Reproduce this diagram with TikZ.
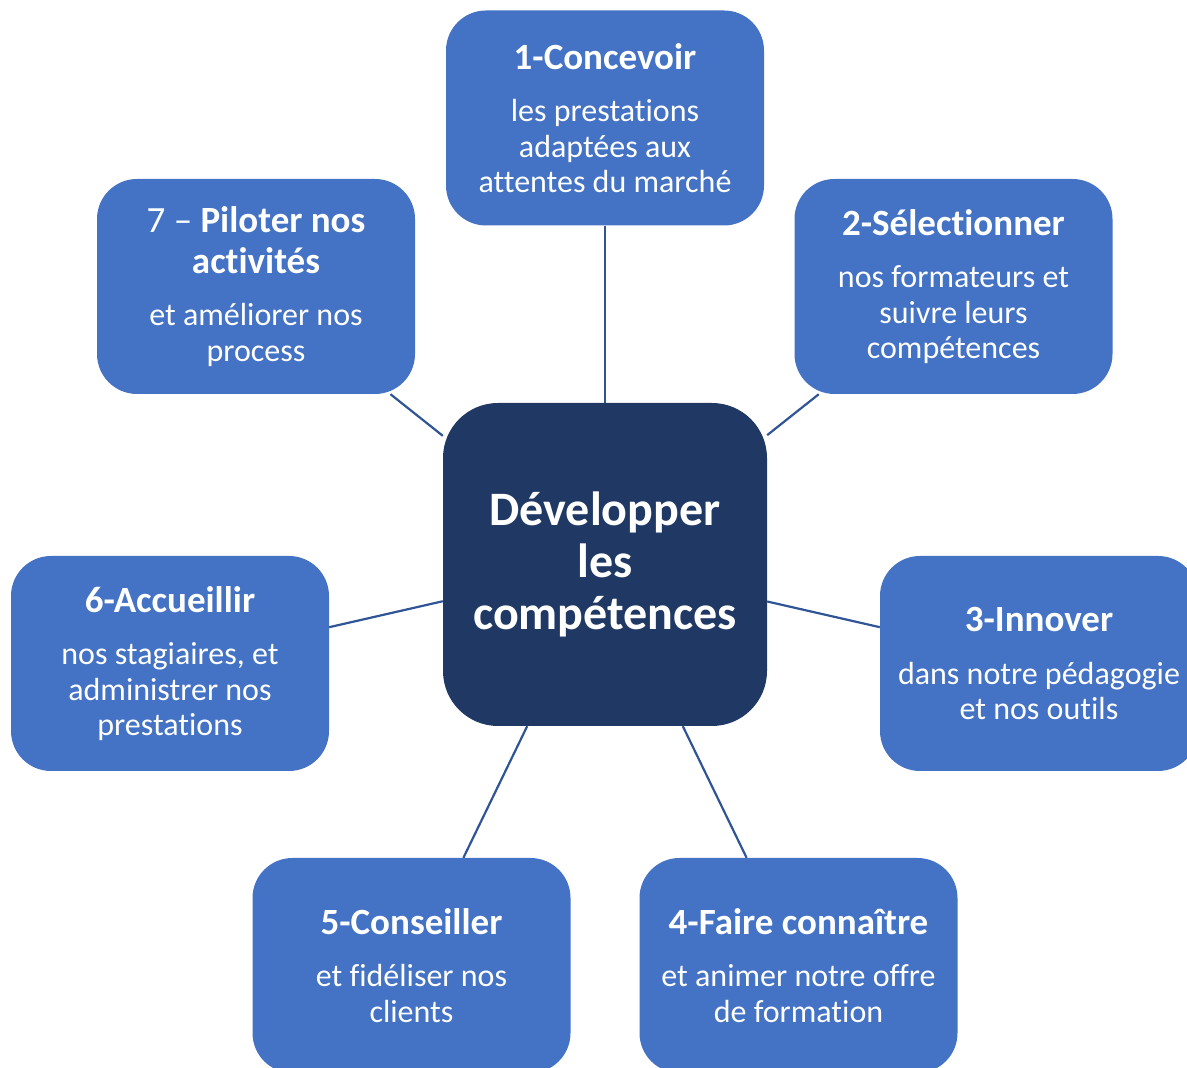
\documentclass[tikz,border=0pt]{standalone}
\usepackage{fontspec}
\setmainfont{Carlito}[Ligatures={TeX,NoCommon}]
\usetikzlibrary{positioning}
\definecolor{boxcolor}{HTML}{4472C4}
\definecolor{hubcolor}{HTML}{203864}
\definecolor{linkcolor}{HTML}{2F5597}
\tikzset{
	block/.style={
		rectangle,
		rounded corners=40pt,
		fill=boxcolor,
		text=white,
		minimum width=318pt,
		minimum height=215pt,
		align=center,
		font=\fontsize{32}{35.5}\selectfont
	},
	hub/.style={
		rectangle,
		rounded corners=55pt,
		fill=hubcolor,
		text=white,
		minimum width=324pt,
		minimum height=323pt,
		align=center,
		font=\fontsize{48}{52}\selectfont\bfseries
	},
	link/.style={
		draw=linkcolor,
		line width=2.2pt
	},
}
\newcommand{\titre}[1]{{\fontsize{37}{35.5}\selectfont\bfseries #1}}

\begin{document}
\begin{tikzpicture}[x=1pt,y=1pt,on grid]
\clip (0,0) rectangle (1187,1068);
\node[hub] (dev) at (605,503.5) {D\'evelopper\\les\\comp\'etences};
\node[block] (s1) [above=446.5pt of dev] {\titre{1-Concevoir}\\[17pt]les prestations\\adapt\'ees aux\\attentes du march\'e};
\node[block] (s2) [above right=278pt and 348.5pt of dev] {\titre{2-S\'electionner}\\[17pt]nos formateurs et\\suivre leurs\\comp\'etences};
\node[block] (s3) [below right=99pt and 434pt of dev] {\titre{3-Innover}\\[17pt]dans notre p\'edagogie\\et nos outils};
\node[block] (s4) [below right=401pt and 193.5pt of dev] {\titre{4-Faire conna\^itre}\\[17pt]et animer notre offre\\de formation};
\node[block] (s5) [below left=401pt and 193.5pt of dev] {\titre{5-Conseiller}\\[17pt]et fid\'eliser nos\\clients};
\node[block] (s6) [below left=99pt and 435pt of dev] {\titre{6-Accueillir}\\[17pt]nos stagiaires, et\\administrer nos\\prestations};
\node[block] (s7) [above left=278pt and 349pt of dev] {{\fontsize{37}{35.5}\selectfont 7 -- \textbf{Piloter nos}}\\[5.5pt]\titre{activit\'es}\\[17pt]et am\'eliorer nos\\process};
% liens vers le centre
\path[link]
(s1) edge (dev)
(s2) edge (dev)
(s3) edge (dev)
(s4) edge (dev)
(s5) edge (dev)
(s6) edge (dev)
(s7) edge (dev)
;
\end{tikzpicture}
\end{document}
